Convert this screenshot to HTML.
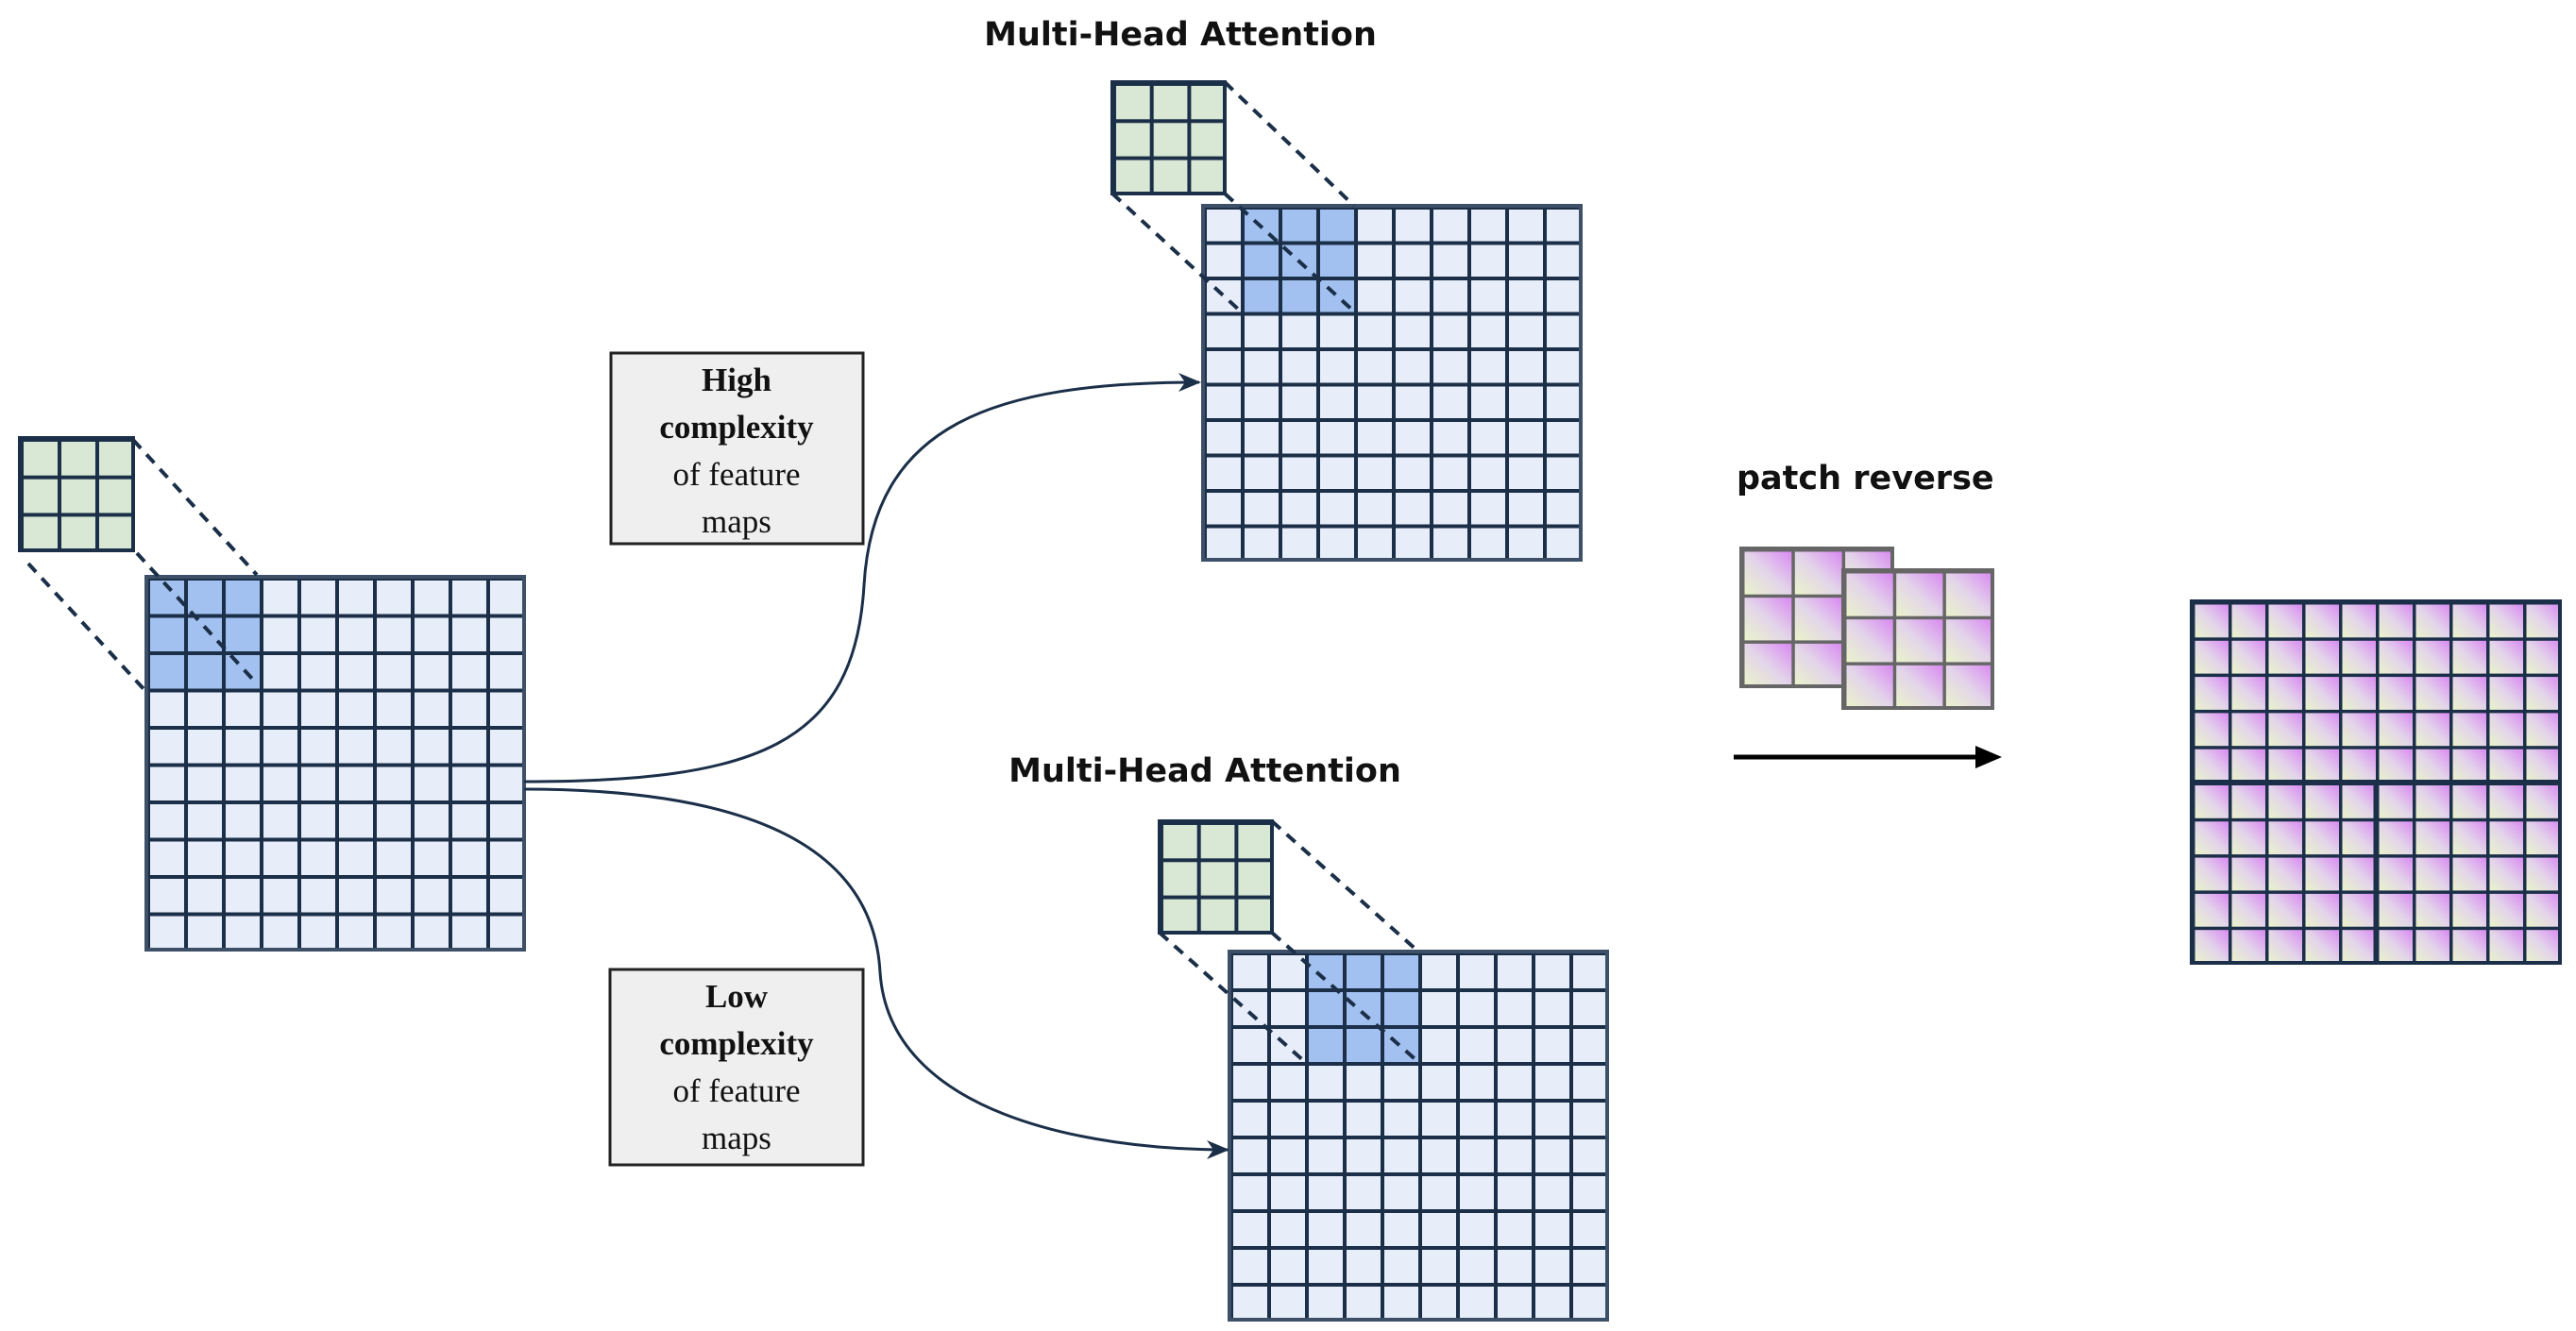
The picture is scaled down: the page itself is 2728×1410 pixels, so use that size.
<!DOCTYPE html>
<html><head><meta charset="utf-8"><style>
html,body{margin:0;padding:0;background:#fff;width:2728px;height:1410px;overflow:hidden}
svg{display:block}
</style></head><body>
<svg width="2728" height="1410" viewBox="0 0 2728 1410" xmlns="http://www.w3.org/2000/svg">
<defs>
<linearGradient id="cg" x1="1" y1="0" x2="0" y2="1">
<stop offset="0" stop-color="#d884f2"/><stop offset="0.5" stop-color="#e3d4ea"/><stop offset="1" stop-color="#eaf6c8"/>
</linearGradient>
<pattern id="gL" patternUnits="userSpaceOnUse" x="155" y="611" width="40" height="39.5"><path d="M0,0H40M0,0V40" stroke="#1b2f48" stroke-width="8" fill="none"/></pattern>
<pattern id="gT" patternUnits="userSpaceOnUse" x="1274" y="218" width="40" height="37.5"><path d="M0,0H40M0,0V37.5" stroke="#1b2f48" stroke-width="8" fill="none"/></pattern>
<pattern id="gB" patternUnits="userSpaceOnUse" x="1302" y="1008" width="40" height="39"><path d="M0,0H40M0,0V39" stroke="#1b2f48" stroke-width="8" fill="none"/></pattern>
<pattern id="gsL" patternUnits="userSpaceOnUse" x="21" y="464" width="40" height="39.7"><path d="M0,0H40M0,0V40" stroke="#1b2f48" stroke-width="8" fill="none"/></pattern>
<pattern id="gsT" patternUnits="userSpaceOnUse" x="1178" y="87" width="39.7" height="39.3"><path d="M0,0H40M0,0V40" stroke="#1b2f48" stroke-width="8" fill="none"/></pattern>
<pattern id="gsB" patternUnits="userSpaceOnUse" x="1228" y="870" width="39.7" height="39.3"><path d="M0,0H40M0,0V40" stroke="#1b2f48" stroke-width="8" fill="none"/></pattern>
<pattern id="pF" patternUnits="userSpaceOnUse" x="2321" y="637" width="39" height="38.3"><rect width="39" height="38.3" fill="url(#cg)"/><path d="M0,0H39M0,0V38.3" stroke="#1b2f48" stroke-width="7" fill="none"/></pattern>
<pattern id="pA" patternUnits="userSpaceOnUse" x="1844" y="581" width="53.3" height="48.7"><rect width="53.3" height="48.7" fill="url(#cg)"/><path d="M0,0H54M0,0V49" stroke="#666" stroke-width="7" fill="none"/></pattern>
<pattern id="pB" patternUnits="userSpaceOnUse" x="1952" y="604" width="52.7" height="48.7"><rect width="52.7" height="48.7" fill="url(#cg)"/><path d="M0,0H53M0,0V49" stroke="#666" stroke-width="7" fill="none"/></pattern>
<marker id="ah" markerWidth="24" markerHeight="20" refX="22" refY="10" orient="auto" markerUnits="userSpaceOnUse"><path d="M0,0 L24,10 L0,20 L7,10Z" fill="#1b2f48"/></marker>
</defs>

<!-- Left -->
<rect x="155" y="611" width="400" height="395" fill="#e8eef9"/>
<rect x="155" y="611" width="120" height="118.5" fill="#a3c1f0"/>
<rect x="155" y="611" width="400" height="395" fill="url(#gL)"/>
<rect x="155" y="611" width="400" height="395" fill="none" stroke="#3d5068" stroke-width="4"/>
<rect x="21" y="464" width="120" height="119" fill="#d8e8d4"/>
<rect x="21" y="464" width="120" height="119" fill="url(#gsL)"/>
<rect x="21" y="464" width="120" height="119" fill="none" stroke="#1b2f48" stroke-width="4"/>
<g stroke="#1b2f48" stroke-width="4" stroke-dasharray="12,9" fill="none">
<line x1="141" y1="466" x2="272" y2="609"/>
<line x1="145" y1="586" x2="268" y2="720"/>
<line x1="30" y1="597" x2="155" y2="733"/>
</g>

<!-- Top -->
<text x="1250" y="48" text-anchor="middle" font-family="DejaVu Sans, Liberation Sans, sans-serif" font-size="35" font-weight="bold" fill="#111">Multi-Head Attention</text>
<rect x="1274" y="218" width="400" height="375" fill="#e8eef9"/>
<rect x="1314" y="218" width="120" height="112.5" fill="#a3c1f0"/>
<rect x="1274" y="218" width="400" height="375" fill="url(#gT)"/>
<rect x="1274" y="218" width="400" height="375" fill="none" stroke="#3d5068" stroke-width="4"/>
<rect x="1178" y="87" width="119" height="118" fill="#d8e8d4"/>
<rect x="1178" y="87" width="119" height="118" fill="url(#gsT)"/>
<rect x="1178" y="87" width="119" height="118" fill="none" stroke="#1b2f48" stroke-width="4"/>
<g stroke="#1b2f48" stroke-width="4" stroke-dasharray="12,9" fill="none">
<line x1="1297" y1="87" x2="1434" y2="218"/>
<line x1="1297" y1="205" x2="1434" y2="330"/>
<line x1="1178" y1="205" x2="1314" y2="330"/>
</g>

<!-- Bottom -->
<text x="1276" y="828" text-anchor="middle" font-family="DejaVu Sans, Liberation Sans, sans-serif" font-size="35" font-weight="bold" fill="#111">Multi-Head Attention</text>
<rect x="1302" y="1008" width="400" height="390" fill="#e8eef9"/>
<rect x="1382" y="1008" width="120" height="117" fill="#a3c1f0"/>
<rect x="1302" y="1008" width="400" height="390" fill="url(#gB)"/>
<rect x="1302" y="1008" width="400" height="390" fill="none" stroke="#3d5068" stroke-width="4"/>
<rect x="1228" y="870" width="119" height="118" fill="#d8e8d4"/>
<rect x="1228" y="870" width="119" height="118" fill="url(#gsB)"/>
<rect x="1228" y="870" width="119" height="118" fill="none" stroke="#1b2f48" stroke-width="4"/>
<g stroke="#1b2f48" stroke-width="4" stroke-dasharray="12,9" fill="none">
<line x1="1347" y1="870" x2="1502" y2="1008"/>
<line x1="1347" y1="988" x2="1502" y2="1125"/>
<line x1="1228" y1="988" x2="1382" y2="1125"/>
</g>

<!-- Curves -->
<path d="M555,828 C800,828 905,790 915,620 C925,450 1050,405 1270,405" fill="none" stroke="#1b2f48" stroke-width="3" marker-end="url(#ah)"/>
<path d="M555,836 C800,836 925,900 932,1030 C942,1180 1150,1218 1300,1218" fill="none" stroke="#1b2f48" stroke-width="3" marker-end="url(#ah)"/>

<!-- Boxes -->
<rect x="647" y="374" width="267" height="202" fill="#efefef" stroke="#222" stroke-width="3"/>
<g font-family="Liberation Serif, serif" font-size="35" text-anchor="middle" fill="#111">
<text x="780" y="414" font-weight="bold">High</text>
<text x="780" y="464" font-weight="bold">complexity</text>
<text x="780" y="514">of feature</text>
<text x="780" y="564">maps</text>
</g>
<rect x="646" y="1027" width="268" height="207" fill="#efefef" stroke="#222" stroke-width="3"/>
<g font-family="Liberation Serif, serif" font-size="35" text-anchor="middle" fill="#111">
<text x="780" y="1067" font-weight="bold">Low</text>
<text x="780" y="1117" font-weight="bold">complexity</text>
<text x="780" y="1167">of feature</text>
<text x="780" y="1217">maps</text>
</g>

<!-- Patch reverse -->
<text x="1839" y="518" font-family="DejaVu Sans, Liberation Sans, sans-serif" font-size="35" font-weight="bold" fill="#111">patch reverse</text>
<rect x="1844" y="581" width="160" height="146" fill="url(#pA)"/>
<rect x="1844" y="581" width="160" height="146" fill="none" stroke="#666" stroke-width="4"/>
<rect x="1952" y="604" width="158" height="146" fill="url(#pB)"/>
<rect x="1952" y="604" width="158" height="146" fill="none" stroke="#666" stroke-width="4"/>
<line x1="1836" y1="802" x2="2098" y2="802" stroke="#000" stroke-width="5"/>
<path d="M2092,790 L2120,802 L2092,814Z" fill="#000"/>

<!-- Final grid -->
<rect x="2321" y="637" width="390" height="383" fill="url(#pF)"/>
<rect x="2321" y="637" width="390" height="383" fill="none" stroke="#1b2f48" stroke-width="4"/>
<line x1="2321" y1="829" x2="2711" y2="829" stroke="#1b2f48" stroke-width="6"/>
<line x1="2516" y1="829" x2="2516" y2="1020" stroke="#1b2f48" stroke-width="5"/>
</svg>
</body></html>
